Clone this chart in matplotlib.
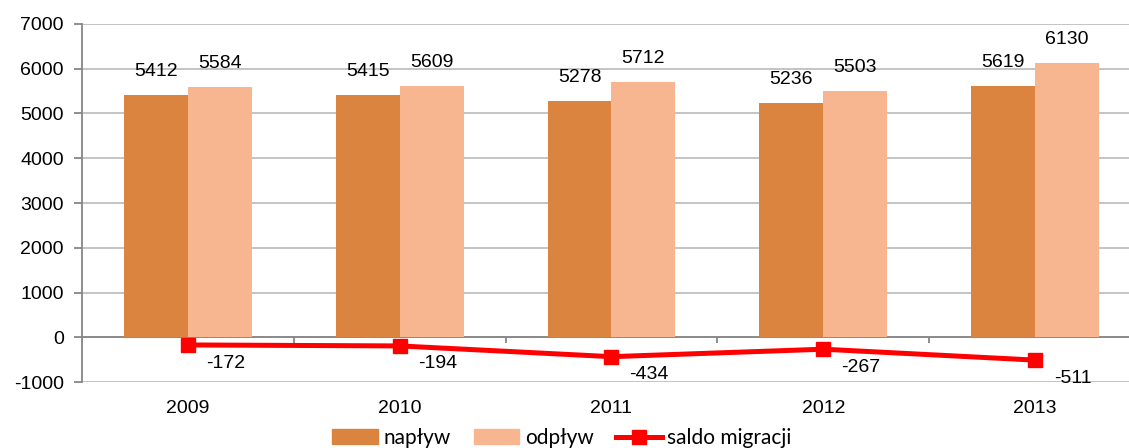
import matplotlib
matplotlib.use("Agg")
import matplotlib.pyplot as plt
import numpy as np
from matplotlib.lines import Line2D
from matplotlib.patches import Patch

years = ["2009", "2010", "2011", "2012", "2013"]
naplyw = [5412, 5415, 5278, 5236, 5619]
odplyw = [5584, 5609, 5712, 5503, 6130]
saldo = [-172, -194, -434, -267, -511]
yticks = [-1000, 0, 1000, 2000, 3000, 4000, 5000, 6000, 7000]

c_in = "#DA843F"
c_out = "#F8B690"
c_line = "#FF0000"
grid_c = "#BFBFBF"
axis_c = "#868686"

plt.rcParams["font.family"] = ["Liberation Sans", "DejaVu Sans"]
FS = 14

fig = plt.figure(figsize=(11.29, 4.48), dpi=100)
ax = fig.add_axes([82/1129, 66/448, 1059/1129, 358/448])

x = np.arange(len(years))
w = 0.302
ax.bar(x - w/2, naplyw, w, color=c_in, zorder=2, label="napływ")
ax.bar(x + w/2, odplyw, w, color=c_out, zorder=2, label="odpływ")
ax.plot(x, saldo, color=c_line, lw=3.6, marker="s", markersize=10,
        zorder=3, label="saldo migracji")

for xi, v in zip(x - w/2, naplyw):
    ax.annotate(str(v), (xi, v), xytext=(0, 17), textcoords="offset points",
                ha="center", va="center", fontsize=FS)
for xi, v in zip(x + w/2, odplyw):
    ax.annotate(str(v), (xi, v), xytext=(0, 17), textcoords="offset points",
                ha="center", va="center", fontsize=FS)
for xi, v in zip(x, saldo):
    ax.annotate(str(v), (xi, v), xytext=(27, -13), textcoords="offset points",
                ha="center", va="center", fontsize=FS)

ax.set_xlim(-0.5, len(years) - 0.5)
ax.set_ylim(-1000, 7000)
ax.set_yticks(yticks)
ax.set_yticklabels([str(t) for t in yticks], fontsize=FS)
ax.yaxis.grid(True, color=grid_c, lw=1.3, zorder=0)
ax.set_axisbelow(True)
for s in ["top", "right", "bottom"]:
    ax.spines[s].set_visible(False)
ax.spines["left"].set_color(axis_c)
ax.spines["left"].set_linewidth(1.3)
ax.tick_params(axis="y", length=6, width=1.3, color=axis_c, pad=7)

# zero axis line with category boundary ticks
ax.axhline(0, color=axis_c, lw=1.3, zorder=1)
bounds = np.arange(len(years) + 1) - 0.5
ax.vlines(bounds, -120, 0, color=axis_c, lw=1.3, zorder=1)

ax.set_xticks(x)
ax.set_xticklabels(years, fontsize=FS)
ax.tick_params(axis="x", length=0, pad=13)

handles = [Patch(color=c_in), Patch(color=c_out),
           Line2D([], [], color=c_line, lw=3.6, marker="s", markersize=10)]
fig.legend(handles, ["napływ", "odpływ", "saldo migracji"],
           loc="center", bbox_to_anchor=(562/1129, 10/448), ncol=3,
           frameon=False, prop={"family": "Lato", "size": 15},
           handlelength=2.2, handletextpad=0.25, columnspacing=1.1)

fig.savefig("out.png", dpi=100)
